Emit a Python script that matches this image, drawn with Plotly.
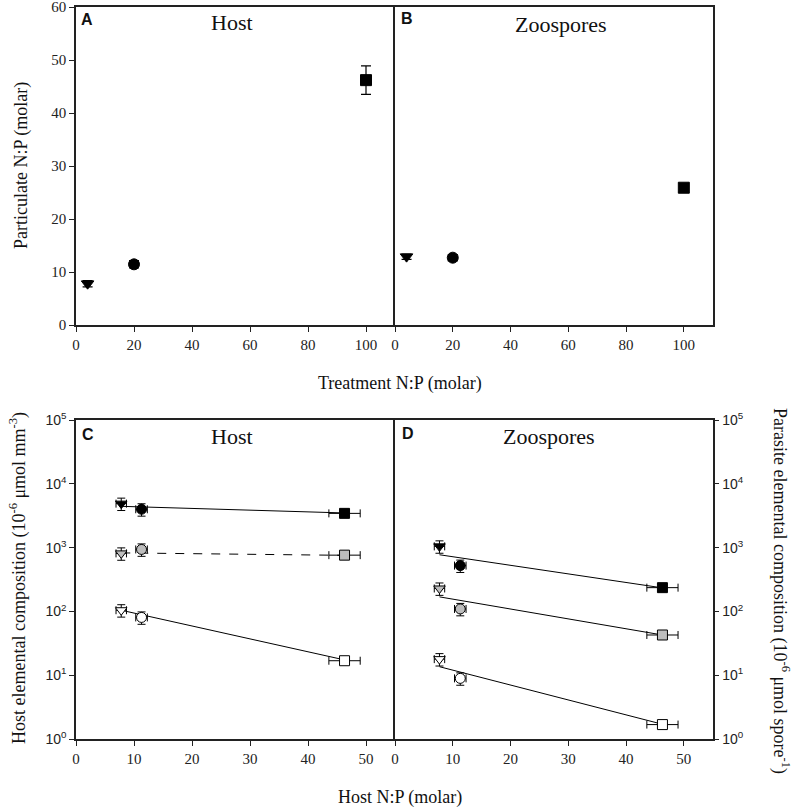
import plotly.graph_objects as go

# ---------------- data ----------------
# Panels A/B: particulate N:P vs treatment N:P
treat_np = [4, 20, 100]
host_np_part = [7.8, 11.45, 46.2]
host_np_err = [0.6, 0.7, 2.7]
zoo_np_part = [12.9, 12.7, 25.9]
zoo_np_err = [0.5, 0.6, 0.8]
treat_xerr = [0.0, 1.4, 0.0]
top_symbols = ["triangle-down", "circle", "square"]

# Panels C/D: elemental composition vs host N:P (log scale)
host_np = [7.8, 11.3, 46.3]
host_np_xerr = [0.9, 1.0, 2.7]
# Host (panel C)
host_C = [4900, 4000, 3450]
host_N = [815, 940, 765]
host_P = [105, 81, 17]
host_C_fit = [4450, 3500]
host_N_fit = [830, 760]
host_P_fit = [105, 17.5]
# Zoospores (panel D)
zoo_x = [7.7, 11.3, 46.3]
zoo_C = [1050, 525, 237]
zoo_N = [230, 110, 43]
zoo_P = [18, 9, 1.7]
zoo_C_fit = [776, 235]
zoo_N_fit = [170, 43]
zoo_P_fit = [13.7, 1.72]
fit_x_host = [7.8, 46.3]
fit_x_zoo = [7.7, 46.3]

log_tickvals = [1, 10, 100, 1000, 10000, 100000]
log_ticktext = ["10<sup>0</sup>", "10<sup>1</sup>", "10<sup>2</sup>", "10<sup>3</sup>",
                "10<sup>4</sup>", "10<sup>5</sup>"]

W, H = 800, 808
SERIF = "Liberation Serif, Times New Roman, serif"
SANS = "Liberation Sans, Arial, sans-serif"
AXC = "#222222"


def px(x):
    return x / W


def py(y):
    return 1 - y / H


fig = go.Figure()

# ---- top panels ----
for xs, ys, es, xa, ya in [(treat_np, host_np_part, host_np_err, "x", "y"),
                           (treat_np, zoo_np_part, zoo_np_err, "x2", "y2")]:
    for i in range(3):
        fig.add_trace(go.Scatter(
            x=[xs[i]], y=[ys[i]], mode="markers", xaxis=xa, yaxis=ya,
            marker=dict(symbol=top_symbols[i], size=11, color="black",
                        line=dict(color="black", width=1)),
            error_y=dict(type="data", array=[es[i]], color="black", thickness=1.2, width=5),
            error_x=dict(type="data", array=[treat_xerr[i]], color="black", thickness=1.2, width=3,
                         visible=treat_xerr[i] > 0),
            showlegend=False))

# ---- bottom panels ----
fills = ["black", "#bdbdbd", "white"]


def add_series(xs, ys, fill, xa, ya):
    for i in range(3):
        ex = host_np_xerr[i]
        ey = [ys[i] * 0.22] if i < 2 else [ys[i] * 0.05]
        fig.add_trace(go.Scatter(
            x=[xs[i]], y=[ys[i]], mode="markers", xaxis=xa, yaxis=ya,
            marker=dict(symbol=top_symbols[i], size=10, color=fill,
                        line=dict(color="black", width=1)),
            error_x=dict(type="data", array=[ex], color="black", thickness=1, width=4),
            error_y=dict(type="data", array=ey, color="black", thickness=1, width=4),
            showlegend=False))


def add_fit(xs, ys, xa, ya, dash="solid"):
    fig.add_trace(go.Scatter(x=xs, y=ys, mode="lines", xaxis=xa, yaxis=ya,
                             line=dict(color="black", width=1, dash=dash),
                             showlegend=False, hoverinfo="skip"))


add_fit(fit_x_host, host_C_fit, "x3", "y3")
add_fit(fit_x_host, host_N_fit, "x3", "y3", dash="dash")
add_fit(fit_x_host, host_P_fit, "x3", "y3")
add_series(host_np, host_C, fills[0], "x3", "y3")
add_series(host_np, host_N, fills[1], "x3", "y3")
add_series(host_np, host_P, fills[2], "x3", "y3")

add_fit(fit_x_zoo, zoo_C_fit, "x4", "y4")
add_fit(fit_x_zoo, zoo_N_fit, "x4", "y4")
add_fit(fit_x_zoo, zoo_P_fit, "x4", "y4")
add_series(zoo_x, zoo_C, fills[0], "x4", "y4")
add_series(zoo_x, zoo_N, fills[1], "x4", "y4")
add_series(zoo_x, zoo_P, fills[2], "x4", "y4")

# ---- axes ----
common_x = dict(showline=True, linecolor=AXC, linewidth=1.5, mirror=True, ticks="outside",
                ticklen=5, tickcolor=AXC, showgrid=False, zeroline=False, automargin=False,
                ticklabeloverflow="allow",
                tickfont=dict(family=SERIF, size=15, color="#222"))
common_y = dict(showline=True, linecolor=AXC, linewidth=1.5, showgrid=False,
                zeroline=False, automargin=False, ticklabeloverflow="allow")

top_dom = [py(325), py(7)]
bot_dom = [py(739.3), py(420)]
dA = [px(76), px(395)]
dB = [px(395), px(712.7)]

fig.update_layout(
    template="none",
    xaxis=dict(common_x, domain=dA, range=[0, 110], tickvals=[0, 20, 40, 60, 80, 100], anchor="y"),
    yaxis=dict(common_y, domain=top_dom, range=[0, 60], ticks="outside", ticklen=5, tickcolor=AXC,
               mirror=False, tickvals=[0, 10, 20, 30, 40, 50, 60], anchor="x",
               tickfont=dict(family=SERIF, size=15, color="#222")),
    xaxis2=dict(common_x, domain=dB, range=[0, 110], tickvals=[0, 20, 40, 60, 80, 100], anchor="y2"),
    yaxis2=dict(common_y, domain=top_dom, range=[0, 60], mirror=True, showticklabels=False, ticks="",
                anchor="x2"),
    xaxis3=dict(common_x, domain=dA, range=[0, 55], tickvals=[0, 10, 20, 30, 40, 50], anchor="y3"),
    yaxis3=dict(common_y, domain=bot_dom, type="log", range=[0, 5], ticks="outside", ticklen=5,
                mirror=False, tickcolor=AXC, tickvals=log_tickvals, ticktext=log_ticktext, anchor="x3",
                tickfont=dict(family=SANS, size=14, color="#222")),
    xaxis4=dict(common_x, domain=dB, range=[0, 55], tickvals=[0, 10, 20, 30, 40, 50], anchor="y4"),
    yaxis4=dict(common_y, domain=bot_dom, type="log", range=[0, 5], side="right", ticks="outside",
                mirror=True, ticklen=5, tickcolor=AXC, tickvals=log_tickvals, ticktext=log_ticktext,
                anchor="x4", tickfont=dict(family=SANS, size=14, color="#222")),
    width=W, height=H, margin=dict(l=0, r=0, t=0, b=0, pad=0),
    paper_bgcolor="white", plot_bgcolor="white",
)

ann = []


def text(x, y, t, size, family=SERIF, angle=0, bold=False):
    ann.append(dict(x=px(x), y=py(y), xref="paper", yref="paper", text=("<b>%s</b>" % t) if bold else t,
                    showarrow=False, textangle=angle, xanchor="center", yanchor="middle",
                    font=dict(family=family, size=size, color="#111")))


text(232, 22, "Host", 22)
text(561, 24, "Zoospores", 22)
text(232, 436, "Host", 22)
text(549, 436, "Zoospores", 22)
text(87, 19, "A", 16, family=SANS, bold=True)
text(407, 18, "B", 16, family=SANS, bold=True)
text(88, 434, "C", 16, family=SANS, bold=True)
text(408, 433, "D", 16, family=SANS, bold=True)
text(22, 166, "Particulate N:P (molar)", 18, angle=-90)
text(400, 383, "Treatment N:P (molar)", 18)
text(400, 797, "Host N:P (molar)", 18)
text(18, 578, "Host elemental composition (10<sup>-6</sup> μmol mm<sup>-3</sup>)", 18, angle=-90)
text(781, 591, "Parasite elemental composition (10<sup>-6</sup> μmol spore<sup>-1</sup>)", 18, angle=90)
fig.update_layout(annotations=ann)

fig.write_html("out.html", config={"displayModeBar": False},
               post_script="document.body.style.margin='0';document.body.style.overflow='hidden';")
